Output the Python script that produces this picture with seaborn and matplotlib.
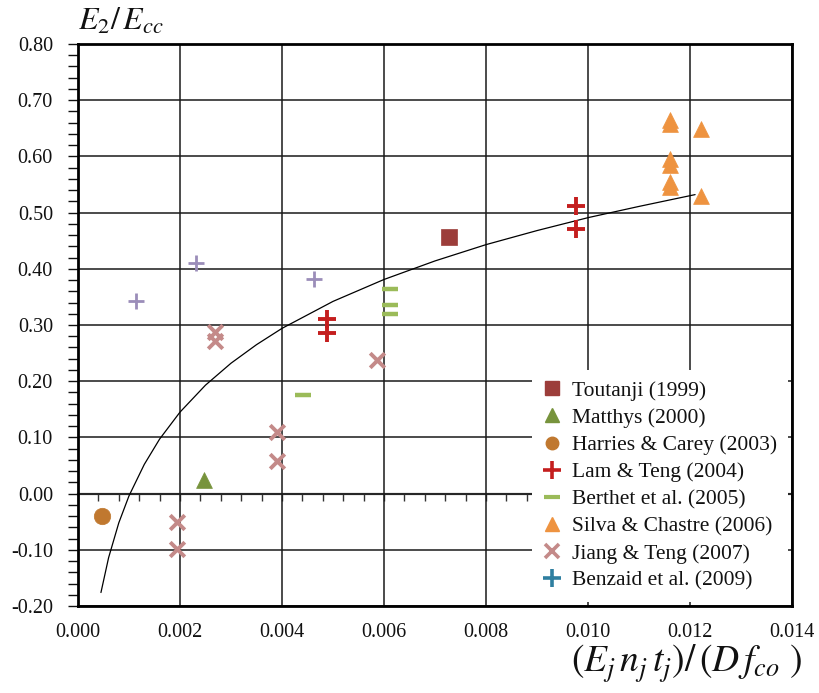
import matplotlib
matplotlib.use("Agg")
import matplotlib.pyplot as plt
from matplotlib.lines import Line2D
from matplotlib.ticker import MultipleLocator, FormatStrFormatter
import seaborn as sns
import pandas as pd

# ---------------- data ----------------
toutanji_x = [0.00728]
toutanji_y = [0.457]

matthys_x = [0.00248]
matthys_y = [0.025]

harries_x = [0.00047]
harries_y = [-0.040]

lam_x = [0.00489, 0.00489, 0.00977, 0.00977]
lam_y = [0.310, 0.285, 0.511, 0.470]

berthet_x = [0.00442, 0.00612, 0.00612, 0.00612]
berthet_y = [0.176, 0.364, 0.335, 0.320]

silva_x = [0.0116, 0.0116, 0.0116, 0.0116, 0.0116, 0.0116, 0.01221, 0.01221]
silva_y = [0.665, 0.657, 0.595, 0.585, 0.555, 0.545, 0.648, 0.529]

jiang_x = [0.00269, 0.00269, 0.00391, 0.00391, 0.00194, 0.00194, 0.00587]
jiang_y = [0.287, 0.271, 0.110, 0.058, -0.051, -0.098, 0.238]

benzaid_x = [0.00114, 0.00231, 0.00462]
benzaid_y = [0.342, 0.410, 0.382]

# trend curve, points
curve_x = [0.00045, 0.0006, 0.0008, 0.0010, 0.0013, 0.0016, 0.0020, 0.0025,
           0.0030, 0.0035, 0.0040, 0.0050, 0.0060, 0.0070, 0.0080, 0.0090,
           0.0100, 0.0110, 0.0121]
curve_y = [-0.176, -0.114, -0.052, -0.004, 0.052, 0.097, 0.145, 0.193,
           0.232, 0.265, 0.294, 0.342, 0.381, 0.414, 0.443, 0.468,
           0.491, 0.511, 0.532]

labels = ["Toutanji (1999)", "Matthys (2000)", "Harries & Carey (2003)",
          "Lam & Teng (2004)", "Berthet et al. (2005)", "Silva & Chastre (2006)",
          "Jiang & Teng (2007)", "Benzaid et al. (2009)"]

x_ticks = [0.000, 0.002, 0.004, 0.006, 0.008, 0.010, 0.012, 0.014]

# ---------------- style ----------------
sns.set_theme(style="white")
plt.rcParams["font.family"] = ["Liberation Serif", "DejaVu Serif"]
plt.rcParams["mathtext.fontset"] = "stix"
plt.rcParams["axes.unicode_minus"] = False

fig = plt.figure(figsize=(8.19, 6.93), dpi=100)
ax = fig.add_axes([78 / 819, 1 - 606 / 693, (792 - 78) / 819, (606 - 44) / 693])

c_tout = "#9C3D3A"
c_matt = "#77933C"
c_harr = "#C0782F"
c_lam = "#C41E1E"
c_bert = "#9BBB59"
c_silva = "#EE9340"
c_jiang = "#C48A89"
c_benz_pts = "#9B8DB9"
c_benz_leg = "#2F7FA0"

# trend curve
sns.lineplot(x=curve_x, y=curve_y, ax=ax, color="black", lw=0.9, sort=True,
             zorder=3, legend=False)

def scat(xs, ys, marker, color, size, lw=0.0, z=4):
    df = pd.DataFrame({"x": xs, "y": ys})
    kw = dict(data=df, x="x", y="y", ax=ax, marker=marker, s=size, zorder=z,
              legend=False)
    if marker in ["+", "x", "_"]:
        sns.scatterplot(color=color, linewidth=lw, **kw)
    else:
        sns.scatterplot(color=color, edgecolor=color, linewidth=0.5, **kw)

scat(toutanji_x, toutanji_y, "s", c_tout, 120)
scat(matthys_x, matthys_y, "^", c_matt, 130)
scat(harries_x, harries_y, "o", c_harr, 140)
scat(lam_x, lam_y, "+", c_lam, 170, lw=2.8)
scat(berthet_x, berthet_y, "_", c_bert, 130, lw=3.2)
scat(silva_x, silva_y, "^", c_silva, 130)
scat(jiang_x, jiang_y, "x", c_jiang, 110, lw=2.8)
scat(benzaid_x, benzaid_y, "+", c_benz_pts, 120, lw=2.0)

# axes limits and ticks
ax.set_xlim(0.0, 0.014)
ax.set_ylim(-0.20, 0.80)
ax.set_xticks(x_ticks)
ax.xaxis.set_major_formatter(FormatStrFormatter("%.3f"))
ax.yaxis.set_major_locator(MultipleLocator(0.1))
ax.yaxis.set_minor_locator(MultipleLocator(0.02))
ax.yaxis.set_major_formatter(FormatStrFormatter("%.2f"))
ax.tick_params(axis="x", which="both", length=0, pad=12, labelsize=14.5, colors="#111")
ax.tick_params(axis="y", which="both", direction="out", length=7, width=1.0,
               left=True, pad=11, labelsize=14.5, colors="#111")
ax.set_xlabel("")
ax.set_ylabel("")

ax.grid(True, which="major", color="#1a1a1a", lw=1.1)
for s in ax.spines.values():
    s.set_color("black")
    s.set_linewidth(2.0)

# zero axis line with small ticks
sec = ax.secondary_xaxis(0.2)
sec.set_xticks([i * 0.0004 for i in range(36)])
sec.tick_params(axis="x", which="major", direction="out", length=5, width=1.0,
                labelbottom=False, colors="#333")
sec.spines["bottom"].set_color("#555")
sec.spines["bottom"].set_linewidth(1.6)

# axis titles
fig.text(78 / 819, 1 - 30 / 693, r"$E_2/\,E_{cc}$", fontsize=23, ha="left",
         va="baseline", color="#111")
fig.text(686 / 819, 1 - 664 / 693,
         r"$\left(E_j\, n_j\, t_j\right)/\,(D\,f_{co}\ )$",
         fontsize=27, ha="center", va="center", color="#111")

# legend
handles = [
    Line2D([], [], ls="none", marker="s", ms=10, color=c_tout),
    Line2D([], [], ls="none", marker="^", ms=10, color=c_matt),
    Line2D([], [], ls="none", marker="o", ms=9, color=c_harr),
    Line2D([], [], ls="none", marker="+", ms=13, mew=2.6, color=c_lam),
    Line2D([], [], ls="none", marker="_", ms=11, mew=3.0, color=c_bert),
    Line2D([], [], ls="none", marker="^", ms=10, color=c_silva),
    Line2D([], [], ls="none", marker="x", ms=10, mew=2.6, color=c_jiang),
    Line2D([], [], ls="none", marker="+", ms=13, mew=2.6, color=c_benz_leg),
]
leg = ax.legend(handles, labels, loc="lower right", bbox_to_anchor=(1.0, 0.0),
                fontsize=15.5, frameon=True, facecolor="white", edgecolor="none",
                framealpha=1.0, fancybox=False, borderaxespad=0.2,
                handlelength=0.9, handletextpad=0.45, labelspacing=0.33,
                borderpad=0.5)
leg.set_zorder(10)
for t in leg.get_texts():
    t.set_color("#111")

fig.savefig("out.png", dpi=100)
